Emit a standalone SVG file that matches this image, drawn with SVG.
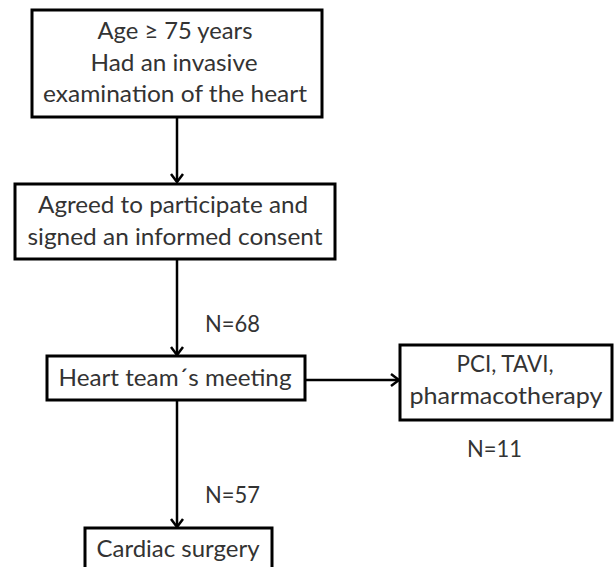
<svg xmlns="http://www.w3.org/2000/svg" width="615" height="567" viewBox="0 0 615 567">
<style>
.box{fill:#fff;stroke:#000;stroke-width:3}
.t{font-family:Lato,"Liberation Sans",sans-serif;font-size:23px;fill:#333;text-anchor:middle}
.n{font-family:Lato,"Liberation Sans",sans-serif;font-size:23px;fill:#333}
.c{stroke:#000;stroke-width:2.5;fill:none}
</style>
<defs>
<marker id="ah" markerUnits="userSpaceOnUse" markerWidth="14" markerHeight="14" viewBox="0 0 14 14" refX="12" refY="7" orient="auto">
<path d="M4,1 L12,7 L4,13" fill="none" stroke="#000" stroke-width="2.5"/>
</marker>
</defs>
<g id="connectors">
<line class="c" x1="177" y1="117" x2="177" y2="182" marker-end="url(#ah)"/>
<line class="c" x1="177" y1="259" x2="177" y2="355" marker-end="url(#ah)"/>
<line class="c" x1="177" y1="400" x2="177" y2="527" marker-end="url(#ah)"/>
<line class="c" x1="305" y1="380" x2="399" y2="380" marker-end="url(#ah)"/>
</g>
<g id="n1">
<rect class="box" x="32" y="10" width="290" height="107"/>
<text class="t" x="175" y="39" textLength="155" lengthAdjust="spacingAndGlyphs">Age ≥ 75 years</text>
<text class="t" x="174" y="71" textLength="167" lengthAdjust="spacingAndGlyphs">Had an invasive</text>
<text class="t" x="175" y="102" textLength="264" lengthAdjust="spacingAndGlyphs">examination of the heart</text>
</g>
<g id="n2">
<rect class="box" x="15" y="184" width="320" height="75"/>
<text class="t" x="173" y="213" textLength="270" lengthAdjust="spacingAndGlyphs">Agreed to participate and</text>
<text class="t" x="175" y="245" textLength="295" lengthAdjust="spacingAndGlyphs">signed an informed consent</text>
</g>
<g id="n3">
<rect class="box" x="47" y="356" width="258" height="44"/>
<text class="t" x="175" y="386" textLength="233" lengthAdjust="spacingAndGlyphs">Heart team´s meeting</text>
</g>
<g id="n4">
<rect class="box" x="400" y="345" width="212" height="75"/>
<text class="t" x="505" y="372" textLength="97" lengthAdjust="spacingAndGlyphs">PCI, TAVI,</text>
<text class="t" x="506" y="404" textLength="193" lengthAdjust="spacingAndGlyphs">pharmacotherapy</text>
</g>
<g id="n5">
<rect class="box" x="85" y="528" width="187" height="50"/>
<text class="t" x="178" y="557" textLength="163" lengthAdjust="spacingAndGlyphs">Cardiac surgery</text>
</g>
<g id="labels">
<text class="n" x="205" y="332" textLength="55" lengthAdjust="spacingAndGlyphs">N=68</text>
<text class="n" x="467" y="457" textLength="55" lengthAdjust="spacingAndGlyphs">N=11</text>
<text class="n" x="205" y="503" textLength="55" lengthAdjust="spacingAndGlyphs">N=57</text>
</g>
</svg>
